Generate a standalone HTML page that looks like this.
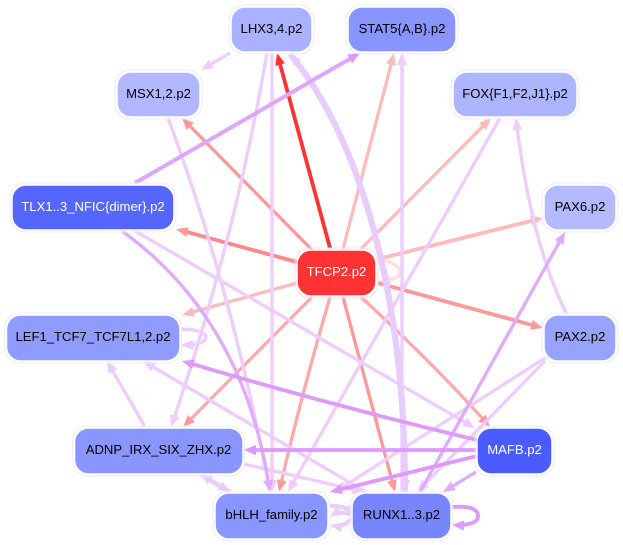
<!DOCTYPE html>
<html>
<head>
<meta charset="utf-8">
<style>
html,body{margin:0;padding:0;background:#fff;width:623px;height:545px;overflow:hidden}
svg{display:block}
text{font-family:"Liberation Sans",sans-serif;font-size:13.1px;text-anchor:middle}
.n{stroke:#fff;stroke-width:1.5}
.o{fill:none;stroke:#ebebff;stroke-width:1}
</style>
</head>
<body>
<svg width="623" height="545" viewBox="0 0 623 545" xmlns="http://www.w3.org/2000/svg">
<defs>
<marker id="a1" markerUnits="userSpaceOnUse" markerWidth="14" markerHeight="12" refX="12" refY="5" orient="auto"><path d="M0 0L12 5L0 10z" fill="#eeccff"/></marker>
<marker id="a2" markerUnits="userSpaceOnUse" markerWidth="14" markerHeight="12" refX="12" refY="5" orient="auto"><path d="M0 0L12 5L0 10z" fill="#dd99ff"/></marker>
<marker id="a3" markerUnits="userSpaceOnUse" markerWidth="14" markerHeight="12" refX="12" refY="5" orient="auto"><path d="M0 0L12 5L0 10z" fill="#ff3333"/></marker>
<marker id="a4" markerUnits="userSpaceOnUse" markerWidth="14" markerHeight="12" refX="12" refY="5" orient="auto"><path d="M0 0L12 5L0 10z" fill="#ff9999"/></marker>
<marker id="a5" markerUnits="userSpaceOnUse" markerWidth="14" markerHeight="12" refX="12" refY="5" orient="auto"><path d="M0 0L12 5L0 10z" fill="#ffbbbb"/></marker>
<marker id="a6" markerUnits="userSpaceOnUse" markerWidth="14" markerHeight="12" refX="12" refY="5" orient="auto"><path d="M0 0L12 5L0 10z" fill="#e0aaff"/></marker>
<marker id="a7" markerUnits="userSpaceOnUse" markerWidth="14" markerHeight="12" refX="12" refY="5" orient="auto"><path d="M0 0L12 5L0 10z" fill="#ffdddd"/></marker>
<marker id="a8" markerUnits="userSpaceOnUse" markerWidth="14" markerHeight="12" refX="12" refY="5" orient="auto"><path d="M0 0L12 5L0 10z" fill="#e8ccff"/></marker>
</defs>
<g fill="none" stroke-width="3.300">
<!-- TFCP2 outgoing -->
<path d="M312 250L182 118" stroke="#ff9999" marker-end="url(#a4)"/>
<path d="M297 262L176 229" stroke="#ff8888" stroke-width="3.800" marker-end="url(#a4)"/>
<path d="M343 249L394 53" stroke="#ffbbbb" marker-end="url(#a5)"/>
<path d="M361 249L491 118" stroke="#ffbbbb" marker-end="url(#a5)"/>
<path d="M378 259L543 218" stroke="#ffbbbb" stroke-width="3.800" marker-end="url(#a5)"/>
<path d="M378 283L543 328" stroke="#ff9999" stroke-width="3.800" marker-end="url(#a4)"/>
<path d="M361 297Q440 370 490 427" stroke="#ffaaaa" marker-end="url(#a4)"/>
<path d="M343 297L395 492" stroke="#ff9999" marker-end="url(#a4)"/>
<path d="M330 297Q300 400 279 492" stroke="#ffaaaa" marker-end="url(#a4)"/>
<path d="M312 297L183 427" stroke="#ffaaaa" marker-end="url(#a4)"/>
<path d="M297 283L182 315" stroke="#ffbbbb" marker-end="url(#a5)"/>
<path d="M377 258Q400 264 400 272Q400 280 379 281" stroke="#ffdddd" marker-end="url(#a7)"/>
<path d="M330 248L277 53" stroke="#ff3333" stroke-width="3.800" marker-end="url(#a3)"/>
<!-- light purple -->
<g stroke="#eeccff">
<path d="M230 53L201 70" marker-end="url(#a1)"/>
<path d="M267 53Q235 240 171 427" marker-end="url(#a1)"/>
<path d="M272 53L272 492" marker-end="url(#a1)"/>
<path d="M168 118Q232 290 270 492" marker-end="url(#a1)"/>
<path d="M402 492L402 53" marker-end="url(#a1)"/>
<path d="M500 118L288 492" marker-end="url(#a1)"/>
<path d="M567 315Q530 240 516 118" marker-end="url(#a1)"/>
<path d="M135 231L475 428" marker-end="url(#a1)"/>
<path d="M545 358L335 492" marker-end="url(#a1)"/>
<path d="M545 361L417 492" marker-end="url(#a1)"/>
<path d="M145 427L107 361" marker-end="url(#a1)"/>
<path d="M366 492L143 361" marker-end="url(#a1)"/>
<path d="M244 464L364 492" marker-end="url(#a1)"/>
<path d="M181 329Q206 330 206 337Q206 345 181 345" marker-end="url(#a1)"/>
</g>
<!-- thick light purple -->
<g stroke="#e8ccff" stroke-width="6">
<path d="M405 492C405 270 350 125 290 54" marker-end="url(#a8)"/>
<path d="M290 54C350 125 405 270 405 492" marker-end="url(#a8)"/>
<path d="M230 492L200 474" stroke-width="4.500" marker-end="url(#a8)"/>
<path d="M200 474L230 492" stroke-width="4.500" marker-end="url(#a8)"/>
<path d="M329 506Q350 505 354 517" stroke-width="4" marker-end="url(#a8)"/>
<path d="M352 518Q345 528 330 525" stroke-width="4" marker-end="url(#a8)"/>
<path d="M352 515Q340 510 330 517" stroke-width="4" marker-end="url(#a8)"/>
</g>
<!-- stronger purple -->
<g stroke="#dd99ff">
<path d="M135 183L360 53" marker-end="url(#a2)" stroke="#dda6ff" stroke-width="4"/>
<path d="M122 231Q245 320 270 492" marker-end="url(#a6)" stroke="#e0aaff"/>
<path d="M420 492L565 232" marker-end="url(#a6)" stroke="#e0aaff"/>
<path d="M477 440Q330 405 182 361" marker-end="url(#a2)" stroke-width="3.800"/>
<path d="M477 450L244 450" marker-end="url(#a2)" stroke-width="3.800"/>
<path d="M477 456L330 492" marker-end="url(#a2)" stroke-width="3.800"/>
<path d="M476 472L443 492" marker-end="url(#a6)" stroke="#e0aaff"/>
<path d="M452 507Q478 505 478 516Q478 526 452 525" marker-end="url(#a2)" stroke-width="3.800"/>
</g>
</g>
<!-- nodes -->
<g>
<rect class="o" x="229" y="5" width="85" height="49" rx="15"/>
<rect class="n" x="231" y="7" width="81" height="45" rx="14" fill="#aab2ff"/>
<text x="271.500" y="33">LHX3,4.p2</text>
<rect class="o" x="346" y="5" width="112" height="49" rx="15"/>
<rect class="n" x="348" y="7" width="108" height="45" rx="14" fill="#8894ff"/>
<text x="402" y="33">STAT5{A,B}.p2</text>
<rect class="o" x="115" y="70" width="87" height="49" rx="15"/>
<rect class="n" x="117" y="72" width="83" height="45" rx="14" fill="#b2b8ff"/>
<text x="158.500" y="98">MSX1,2.p2</text>
<rect class="o" x="451" y="70" width="128" height="49" rx="15"/>
<rect class="n" x="453" y="72" width="124" height="45" rx="14" fill="#aeb5ff"/>
<text x="515" y="98">FOX{F1,F2,J1}.p2</text>
<rect class="o" x="10" y="183" width="166" height="49" rx="15"/>
<rect class="n" x="12" y="185" width="162" height="45" rx="14" fill="#5566ff"/>
<text x="93" y="211" fill="#fff">TLX1..3_NFIC{dimer}.p2</text>
<rect class="o" x="542" y="183" width="76" height="49" rx="15"/>
<rect class="n" x="544" y="185" width="72" height="45" rx="14" fill="#b4baff"/>
<text x="580" y="211">PAX6.p2</text>
<rect class="o" x="295" y="248" width="83" height="50" rx="15" style="stroke:#ffdddd"/>
<rect class="n" x="297" y="250" width="79" height="46" rx="14" fill="#ff3333"/>
<text x="336.500" y="276" fill="#fff">TFCP2.p2</text>
<rect class="o" x="4.500" y="313" width="177" height="50" rx="15"/>
<rect class="n" x="6.500" y="315" width="173.500" height="46" rx="14" fill="#8f9bff"/>
<text x="93" y="341">LEF1_TCF7_TCF7L1,2.p2</text>
<rect class="o" x="542" y="313" width="76" height="50" rx="15"/>
<rect class="n" x="544" y="315" width="72" height="46" rx="14" fill="#98a3ff"/>
<text x="580" y="341">PAX2.p2</text>
<rect class="o" x="72.500" y="426" width="172" height="50" rx="15"/>
<rect class="n" x="74.500" y="428" width="168.500" height="46" rx="14" fill="#8a96ff"/>
<text x="158.500" y="454">ADNP_IRX_SIX_ZHX.p2</text>
<rect class="o" x="475" y="426" width="79" height="50" rx="15"/>
<rect class="n" x="477" y="428" width="75" height="46" rx="14" fill="#4a5cff"/>
<text x="514.500" y="454" fill="#fff">MAFB.p2</text>
<rect class="o" x="213" y="491" width="117" height="50" rx="15"/>
<rect class="n" x="215" y="493" width="113" height="46" rx="14" fill="#8a96ff"/>
<text x="271.500" y="519">bHLH_family.p2</text>
<rect class="o" x="350" y="491" width="103" height="50" rx="15"/>
<rect class="n" x="352" y="493" width="99" height="46" rx="14" fill="#7785ff"/>
<text x="401.500" y="519">RUNX1..3.p2</text>
</g>
</svg>
<script>
document.querySelectorAll('path[marker-end]').forEach(function(p){
  var l=p.getTotalLength();
  p.setAttribute('stroke-dasharray',(l-6)+' 2000');
});
</script>
</body>
</html>
